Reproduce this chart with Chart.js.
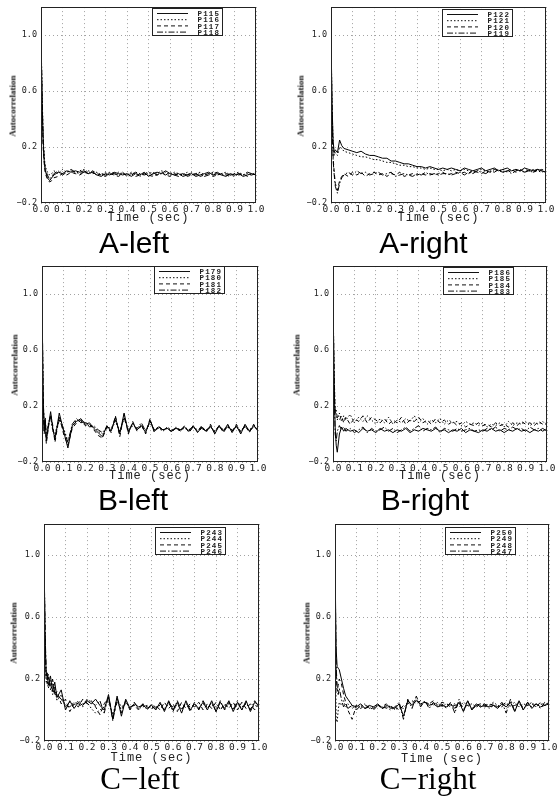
<!DOCTYPE html>
<html><head><meta charset="utf-8">
<script src="https://cdn.jsdelivr.net/npm/chart.js@4.4.0/dist/chart.umd.min.js"></script>
<style>
html,body{margin:0;padding:0;background:#fff}
body{width:559px;height:798px;position:relative;overflow:hidden}
canvas{position:absolute}
.ylab{position:absolute;font-family:"Liberation Serif",serif;font-weight:bold;font-size:9px;line-height:9px;transform:translate(-50%,-50%) rotate(-90deg);white-space:nowrap;color:#111}
.xlab{position:absolute;font-family:"Liberation Mono",monospace;font-size:12px;line-height:12px;letter-spacing:1px;transform:translateX(-50%);white-space:nowrap;color:#222}
.sub{position:absolute;font-family:"Liberation Sans",Arial,sans-serif;font-size:30px;line-height:30px;transform:translateX(-50%);white-space:nowrap;color:#000}
.sub.serif{font-family:"Liberation Serif","Times New Roman",serif;font-size:31px;line-height:31px}
.leg{position:absolute}
</style>
</head><body>
<script>
// ---- shared axes ----
const T = [0,0.005,0.01,0.015,0.02,0.03,0.04,0.05,
 0.06,0.08,0.10,0.12,0.14,0.16,0.18,0.20,
 0.22,0.24,0.26,0.28,0.30,0.32,0.34,0.36,
 0.38,0.40,0.42,0.44,0.46,0.48,0.50,0.52,
 0.54,0.56,0.58,0.60,0.62,0.64,0.66,0.68,
 0.70,0.72,0.74,0.76,0.78,0.80,0.82,0.84,
 0.86,0.88,0.90,0.92,0.94,0.96,0.98,1.00];
const Y_TICKS = [-0.2,0.2,0.6,1.0];
const Y_TICK_LABELS = ['\u22120.2','0.2','0.6','1.0'];
const X_TICKS = [0,0.1,0.2,0.3,0.4,0.5,0.6,0.7,0.8,0.9,1.0];
const X_TICK_LABELS = ['0.0','0.1','0.2','0.3','0.4','0.5','0.6','0.7','0.8','0.9','1.0'];

// ---- A-left ----
const A_LEFT_NAMES = ['P115','P116','P117','P118'];
const A_LEFT_S1 = [1.0,0.55,0.24,0.10,0.03,-0.02,-0.04,-0.02,
 0.00,0.02,0.01,0.03,0.02,0.03,0.02,0.03,
 0.01,0.02,0.00,-0.01,0.01,0.00,0.02,0.01,
 0.00,0.01,-0.01,0.01,0.00,0.02,-0.01,0.01,
 0.02,0.01,0.03,0.01,0.00,0.01,-0.01,0.00,
 0.01,-0.01,0.00,0.01,0.02,0.00,0.01,0.00,
 -0.01,0.01,0.00,0.01,-0.01,0.00,0.01,0.00];
const A_LEFT_S2 = [1.0,0.60,0.28,0.13,0.06,0.02,0.00,0.01,
 0.03,0.01,0.04,0.02,0.03,0.01,0.03,0.04,
 0.02,0.01,0.02,0.00,0.02,0.01,0.00,0.02,
 0.01,0.00,0.02,0.01,-0.01,0.01,0.02,0.00,
 0.01,0.03,0.02,0.00,0.02,0.01,0.00,0.02,
 0.00,0.01,0.02,0.00,0.01,0.02,0.00,0.01,
 0.02,0.00,0.01,0.02,0.00,0.01,0.00,0.02];
const A_LEFT_S3 = [1.0,0.50,0.20,0.08,0.01,-0.03,-0.05,-0.04,
 -0.02,-0.01,0.01,0.00,0.02,0.01,0.00,0.02,
 0.01,0.03,0.01,0.00,-0.01,0.01,0.00,-0.01,
 0.01,0.00,0.01,-0.01,0.00,0.01,0.00,-0.01,
 0.00,0.02,0.00,-0.01,0.01,0.00,0.01,-0.01,
 0.00,0.01,-0.01,0.00,0.01,-0.01,0.00,0.01,
 0.00,-0.01,0.01,0.00,0.01,-0.01,0.00,0.01];
const A_LEFT_S4 = [1.0,0.58,0.26,0.11,0.04,0.00,-0.03,-0.01,
 0.01,0.03,0.00,0.02,0.04,0.02,0.01,0.02,
 0.03,0.02,0.00,0.01,0.00,0.02,0.01,0.00,
 0.02,-0.01,0.00,0.02,0.01,0.00,0.01,0.02,
 0.00,0.01,0.00,0.02,0.00,-0.01,0.01,0.00,
 0.02,0.00,0.01,-0.01,0.00,0.01,0.02,0.00,
 0.01,0.00,-0.01,0.01,0.00,0.02,0.01,0.00];

// ---- A-right ----
const A_RIGHT_NAMES = ['P122','P121','P120','P119'];
const A_RIGHT_S1 = [1.0,0.50,0.24,0.16,0.18,0.16,0.25,0.21,
 0.19,0.18,0.17,0.16,0.17,0.15,0.14,0.14,
 0.13,0.12,0.12,0.10,0.10,0.09,0.08,0.08,
 0.07,0.06,0.06,0.05,0.06,0.05,0.04,0.05,
 0.04,0.05,0.04,0.03,0.05,0.04,0.03,0.04,
 0.05,0.03,0.04,0.05,0.03,0.04,0.05,0.03,
 0.04,0.03,0.05,0.04,0.03,0.04,0.03,0.02];
const A_RIGHT_S2 = [1.0,0.48,0.22,0.14,0.16,0.14,0.20,0.19,
 0.17,0.16,0.15,0.14,0.13,0.13,0.12,0.11,
 0.11,0.10,0.09,0.09,0.08,0.07,0.07,0.06,
 0.06,0.05,0.05,0.04,0.05,0.04,0.04,0.03,
 0.04,0.03,0.04,0.03,0.04,0.03,0.02,0.03,
 0.04,0.03,0.02,0.04,0.03,0.04,0.02,0.03,
 0.04,0.03,0.02,0.03,0.04,0.03,0.02,0.03];
const A_RIGHT_S3 = [1.0,0.40,0.12,0.02,-0.06,-0.11,-0.04,-0.01,
 0.01,-0.01,0.02,0.00,0.02,-0.01,0.01,0.02,
 0.00,0.01,-0.01,0.01,0.00,0.02,-0.01,0.00,
 0.01,0.00,0.01,0.00,0.01,0.00,0.01,0.02,
 0.00,0.01,0.02,0.01,0.02,0.01,0.03,0.02,
 0.01,0.03,0.02,0.04,0.03,0.02,0.03,0.04,
 0.02,0.03,0.04,0.03,0.02,0.03,0.04,0.03];
const A_RIGHT_S4 = [1.0,0.38,0.10,0.00,-0.08,-0.13,-0.06,-0.02,
 0.00,0.02,0.00,0.03,0.01,0.02,0.00,0.01,
 0.02,0.00,0.01,0.02,-0.01,0.00,0.01,0.00,
 -0.01,0.01,0.00,0.02,0.00,0.01,0.00,0.01,
 0.01,0.00,0.01,0.02,0.00,0.02,0.01,0.03,
 0.02,0.01,0.03,0.02,0.04,0.02,0.03,0.01,
 0.03,0.04,0.02,0.03,0.02,0.04,0.03,0.02];

// ---- B-left ----
const B_LEFT_NAMES = ['P179','P180','P181','P182'];
const B_LEFT_S1 = [1.0,0.30,0.02,0.10,-0.05,0.06,0.16,0.04,
 -0.04,0.15,0.02,-0.10,0.06,0.09,0.11,0.07,
 0.08,0.04,0.01,-0.02,0.06,0.02,0.12,0.00,
 0.15,0.01,0.08,0.03,0.06,0.01,0.10,0.02,
 0.05,0.03,0.04,0.02,0.04,0.03,0.05,0.02,
 0.06,0.01,0.05,0.02,0.06,0.00,0.06,0.02,
 0.07,0.01,0.06,0.00,0.07,0.02,0.06,0.03];
const B_LEFT_S2 = [1.0,0.28,0.05,0.12,-0.02,0.08,0.13,0.02,
 0.00,0.12,0.04,-0.05,0.05,0.10,0.09,0.08,
 0.06,0.05,0.02,0.00,0.04,0.03,0.09,0.02,
 0.11,0.03,0.07,0.04,0.05,0.03,0.07,0.03,
 0.04,0.02,0.05,0.03,0.04,0.02,0.05,0.03,
 0.05,0.02,0.04,0.03,0.05,0.02,0.05,0.03,
 0.05,0.02,0.06,0.02,0.05,0.03,0.06,0.02];
const B_LEFT_S3 = [1.0,0.32,0.00,0.08,-0.07,0.05,0.14,0.06,
 -0.06,0.13,0.00,-0.08,0.04,0.08,0.10,0.06,
 0.07,0.03,-0.01,-0.03,0.05,0.01,0.13,-0.02,
 0.14,0.00,0.09,0.02,0.07,0.00,0.11,0.01,
 0.06,0.02,0.05,0.01,0.05,0.02,0.06,0.01,
 0.05,0.02,0.06,0.01,0.07,0.01,0.06,0.01,
 0.06,0.02,0.07,0.01,0.06,0.01,0.07,0.02];
const B_LEFT_S4 = [1.0,0.26,0.04,0.11,-0.03,0.07,0.12,0.03,
 -0.02,0.10,0.03,-0.06,0.07,0.11,0.08,0.09,
 0.05,0.06,0.03,0.01,0.05,0.04,0.10,0.01,
 0.12,0.02,0.06,0.04,0.08,0.02,0.09,0.03,
 0.05,0.03,0.04,0.02,0.05,0.03,0.04,0.03,
 0.05,0.03,0.04,0.02,0.05,0.02,0.06,0.03,
 0.05,0.03,0.05,0.02,0.06,0.02,0.05,0.03];

// ---- B-right ----
const B_RIGHT_NAMES = ['P186','P185','P184','P183'];
const B_RIGHT_S1 = [1.0,0.40,0.05,-0.08,-0.13,0.00,0.05,0.02,
 0.04,0.02,0.03,0.01,0.04,0.02,0.03,0.01,
 0.04,0.02,0.03,0.01,0.03,0.02,0.04,0.01,
 0.03,0.02,0.04,0.03,0.02,0.04,0.02,0.03,
 0.01,0.03,0.02,0.04,0.01,0.03,0.02,0.01,
 0.03,0.02,0.04,0.02,0.03,0.01,0.03,0.02,
 0.04,0.02,0.03,0.01,0.03,0.02,0.04,0.02];
const B_RIGHT_S2 = [1.0,0.45,0.18,0.14,0.10,0.15,0.09,0.13,
 0.10,0.14,0.08,0.12,0.09,0.13,0.10,0.07,
 0.11,0.08,0.12,0.07,0.10,0.08,0.11,0.09,
 0.13,0.08,0.11,0.07,0.10,0.08,0.11,0.07,
 0.10,0.08,0.09,0.06,0.09,0.07,0.08,0.06,
 0.08,0.05,0.07,0.06,0.08,0.05,0.09,0.06,
 0.08,0.07,0.09,0.06,0.08,0.07,0.09,0.06];
const B_RIGHT_S3 = [1.0,0.42,0.15,0.17,0.12,0.10,0.13,0.08,
 0.12,0.07,0.11,0.09,0.13,0.08,0.12,0.10,
 0.08,0.11,0.07,0.10,0.08,0.12,0.07,0.10,
 0.09,0.12,0.08,0.10,0.07,0.11,0.08,0.10,
 0.07,0.09,0.06,0.08,0.05,0.07,0.06,0.08,
 0.06,0.07,0.05,0.08,0.06,0.07,0.05,0.08,
 0.06,0.09,0.07,0.08,0.06,0.09,0.07,0.08];
const B_RIGHT_S4 = [1.0,0.35,0.00,-0.05,0.02,0.06,0.03,0.05,
 0.02,0.04,0.01,0.03,0.05,0.01,0.04,0.02,
 0.03,0.05,0.02,0.04,0.01,0.03,0.05,0.02,
 0.04,0.06,0.02,0.04,0.03,0.05,0.01,0.04,
 0.03,0.02,0.04,0.02,0.03,0.04,0.02,0.03,
 0.02,0.04,0.03,0.05,0.02,0.04,0.03,0.05,
 0.03,0.04,0.02,0.05,0.03,0.04,0.02,0.04];

// ---- C-left ----
const C_LEFT_NAMES = ['P243','P244','P245','P246'];
const C_LEFT_S1 = [1.0,0.50,0.22,0.24,0.16,0.22,0.12,0.18,
 0.08,0.13,0.00,0.06,0.01,0.05,0.03,0.06,
 0.04,0.07,0.03,0.00,0.10,-0.06,0.09,-0.04,
 0.07,0.01,0.04,0.02,0.03,0.01,0.03,0.00,
 0.05,-0.01,0.06,0.00,0.05,-0.02,0.06,0.00,
 0.04,0.01,0.05,0.00,0.06,-0.01,0.05,0.01,
 0.06,-0.01,0.05,0.00,0.06,-0.01,0.05,0.03];
const C_LEFT_S2 = [1.0,0.45,0.18,0.20,0.14,0.19,0.10,0.15,
 0.06,0.10,0.02,0.05,0.03,0.06,0.04,0.05,
 0.01,-0.02,0.00,0.02,0.06,-0.03,0.07,0.02,
 0.04,0.02,0.03,0.01,0.02,0.03,0.01,0.02,
 0.03,0.01,0.04,0.02,0.03,0.01,0.04,0.02,
 0.03,0.01,0.04,0.02,0.03,0.02,0.01,0.03,
 0.04,0.01,0.03,0.02,0.04,0.01,0.03,0.02];
const C_LEFT_S3 = [1.0,0.48,0.20,0.17,0.21,0.13,0.17,0.09,
 0.12,0.04,0.07,-0.01,0.04,0.02,0.07,0.04,
 0.06,0.02,-0.03,0.04,0.08,-0.05,0.05,0.00,
 0.05,0.02,0.03,0.00,0.04,0.02,0.01,0.03,
 0.00,0.05,0.01,0.04,-0.01,0.05,0.01,0.04,
 0.02,0.05,0.00,0.04,0.01,0.05,0.00,0.04,
 0.01,0.05,0.00,0.05,0.01,0.04,0.00,0.04];
const C_LEFT_S4 = [1.0,0.52,0.25,0.19,0.23,0.15,0.20,0.11,
 0.10,0.07,0.03,0.02,0.05,0.04,0.02,0.07,
 0.05,0.03,0.06,-0.02,0.09,-0.07,0.08,-0.02,
 0.06,0.00,0.05,0.01,0.04,0.00,0.04,0.01,
 0.04,0.00,0.05,-0.01,0.06,0.00,0.05,-0.01,
 0.05,0.00,0.06,0.01,0.05,-0.01,0.06,0.00,
 0.05,0.00,0.06,0.00,0.05,0.00,0.06,0.02];

// ---- C-right ----
const C_RIGHT_NAMES = ['P250','P249','P248','P247'];
const C_RIGHT_S1 = [1.0,0.40,0.28,0.27,0.26,0.20,0.14,0.09,
 0.07,0.03,0.02,0.04,0.01,0.03,0.02,0.04,
 0.01,0.03,0.02,0.01,0.04,-0.04,0.06,0.03,
 0.06,0.04,0.05,0.03,0.04,0.02,0.03,0.02,
 0.04,0.01,0.05,-0.01,0.06,0.00,0.04,0.02,
 0.03,0.02,0.03,0.01,0.04,0.02,0.05,-0.01,
 0.06,0.00,0.05,0.01,0.04,0.02,0.03,0.04];
const C_RIGHT_S2 = [1.0,-0.05,-0.08,0.00,0.05,0.03,0.06,0.02,
 0.04,0.01,0.03,0.02,0.04,0.01,0.02,0.03,
 0.02,0.01,0.03,0.00,0.02,0.01,0.05,0.04,
 0.07,0.03,0.05,0.04,0.03,0.05,0.02,0.04,
 0.03,0.04,0.02,0.05,0.03,0.04,0.02,0.03,
 0.04,0.03,0.05,0.03,0.02,0.04,0.03,0.05,
 0.02,0.04,0.03,0.05,0.02,0.04,0.03,0.05];
const C_RIGHT_S3 = [1.0,0.25,0.12,0.16,0.20,0.17,0.10,0.05,
 0.00,-0.06,0.03,0.01,0.03,0.02,0.01,0.03,
 0.02,0.04,0.01,0.02,0.00,0.03,0.04,0.06,
 0.04,0.06,0.05,0.04,0.06,0.03,0.05,0.04,
 0.02,0.03,0.04,0.02,0.03,0.01,0.03,0.04,
 0.02,0.03,0.04,0.02,0.03,0.05,0.02,0.03,
 0.04,0.02,0.03,0.04,0.02,0.05,0.03,0.04];
const C_RIGHT_S4 = [1.0,0.30,0.15,0.10,0.14,0.07,0.02,0.04,
 0.01,0.03,0.00,0.03,0.01,0.02,0.00,0.03,
 0.01,0.02,0.00,0.02,0.05,-0.06,0.07,0.01,
 0.09,0.02,0.06,0.01,0.05,0.02,0.04,0.01,
 0.05,-0.02,0.07,-0.01,0.06,0.00,0.03,0.02,
 0.04,0.01,0.03,0.02,0.05,-0.02,0.07,-0.01,
 0.06,0.00,0.05,0.02,0.04,0.01,0.05,0.03];

// ---- panel layout (positions & styles only) ----
const DASHES = [[], [1.5,2], [4,3], [6,2,1.5,2]];
const PANELS = [
  {names:A_LEFT_NAMES,  series:[A_LEFT_S1,A_LEFT_S2,A_LEFT_S3,A_LEFT_S4],     title:'A-left',  box:[41,6,215,197],   leg:[152,8],   xl:219, yl:28, sub:[134,227.5], serif:false},
  {names:A_RIGHT_NAMES, series:[A_RIGHT_S1,A_RIGHT_S2,A_RIGHT_S3,A_RIGHT_S4], title:'A-right', box:[331,6,215,197],  leg:[442,9],   xl:219, yl:30, sub:[423.5,227.5], serif:false},
  {names:B_LEFT_NAMES,  series:[B_LEFT_S1,B_LEFT_S2,B_LEFT_S3,B_LEFT_S4],     title:'B-left',  box:[42,265,216,197], leg:[154,266], xl:477, yl:27, sub:[133,485], serif:false},
  {names:B_RIGHT_NAMES, series:[B_RIGHT_S1,B_RIGHT_S2,B_RIGHT_S3,B_RIGHT_S4], title:'B-right', box:[333,265,214,197],leg:[443,267], xl:477, yl:36, sub:[425,485], serif:false},
  {names:C_LEFT_NAMES,  series:[C_LEFT_S1,C_LEFT_S2,C_LEFT_S3,C_LEFT_S4],     title:'C\u2212left',  box:[44,523,215,218], leg:[155,527], xl:759, yl:30, sub:[140,763], serif:true},
  {names:C_RIGHT_NAMES, series:[C_RIGHT_S1,C_RIGHT_S2,C_RIGHT_S3,C_RIGHT_S4], title:'C\u2212right', box:[335,523,214,218],leg:[445,527], xl:760, yl:28, sub:[428,763], serif:true}
];

const framePlugin = {
  id:'frame',
  afterDraw(chart){
    const {ctx, chartArea:a} = chart;
    ctx.save();
    ctx.strokeStyle = '#222';
    ctx.lineWidth = 1;
    ctx.strokeRect(Math.round(a.left)+0.5, Math.round(a.top)+0.5, Math.round(a.width)-1, Math.round(a.height)-1);
    ctx.restore();
  }
};

const SVG_DASH = ['', '1.5,2', '4,3', '6,2,1.5,2'];

function addDiv(cls, text, style){
  const d = document.createElement('div');
  d.className = cls; d.textContent = text;
  Object.assign(d.style, style);
  document.body.appendChild(d);
}

function makePanel(p){
  const [L,Tp,W,H] = p.box;
  const padL=40, padT=8, padR=14, padB=18;
  const cv = document.createElement('canvas');
  const cw = W+padL+padR, ch = H+padT+padB;
  cv.width = cw; cv.height = ch;
  cv.style.width = cw+'px'; cv.style.height = ch+'px';
  cv.style.left = (L-padL)+'px'; cv.style.top = (Tp-padT)+'px';
  document.body.appendChild(cv);

  const xFont = {family:'"DejaVu Sans Mono", monospace', size:9.5};
  const yFont = {family:'"DejaVu Sans Mono", monospace', size:8.5};
  new Chart(cv, {
    type:'line',
    data:{
      datasets: p.series.map((s,i)=>({
        label:p.names[i],
        data:T.map((t,k)=>({x:t,y:s[k]})),
        borderColor:'#000', borderWidth:1, borderDash:DASHES[i],
        pointRadius:0, tension:0, fill:false
      }))
    },
    options:{
      responsive:false, animation:false, devicePixelRatio:1,
      layout:{padding:{top:padT,right:padR,left:0,bottom:0}},
      plugins:{legend:{display:false}, tooltip:{enabled:false}},
      scales:{
        x:{
          type:'linear', min:0, max:1,
          afterBuildTicks:s=>{ s.ticks = X_TICKS.map(v=>({value:v})); },
          afterFit:s=>{ s.height = padB; },
          ticks:{callback:(v,i)=>X_TICK_LABELS[i], maxRotation:0, minRotation:0, autoSkip:false, padding:1, font:xFont, color:'#222'},
          grid:{color:'#8a8a8a', lineWidth:0.8, drawTicks:false},
          border:{display:false, dash:[1,3]}
        },
        y:{
          type:'linear', min:-0.2, max:1.2,
          afterBuildTicks:s=>{ s.ticks = Y_TICKS.map(v=>({value:v})); },
          afterFit:s=>{ s.width = padL; },
          ticks:{callback:(v,i)=>Y_TICK_LABELS[i], padding:4, font:yFont, color:'#222'},
          grid:{color:'#8a8a8a', lineWidth:0.8, drawTicks:false},
          border:{display:false, dash:[1,3]}
        }
      }
    },
    plugins:[framePlugin]
  });

  // legend box
  const [lx,ly] = p.leg;
  let svg = `<svg class="leg" style="left:${lx}px;top:${ly}px" width="71" height="28" xmlns="http://www.w3.org/2000/svg">`+
    `<rect x="0.5" y="0.5" width="70" height="27" fill="#fff" stroke="#222" stroke-width="1"/>`;
  p.names.forEach((n,i)=>{
    const y = 5.5 + i*6.2;
    svg += `<line x1="5" y1="${y}" x2="36" y2="${y}" stroke="#111" stroke-width="1" ${SVG_DASH[i]?`stroke-dasharray="${SVG_DASH[i]}"`:''}/>`;
    svg += `<text x="68" y="${y+2.6}" text-anchor="end" font-family="Liberation Mono, monospace" font-size="7.5" font-weight="bold" letter-spacing="1.1" fill="#222">${n}</text>`;
  });
  svg += '</svg>';
  document.body.insertAdjacentHTML('beforeend', svg);

  // axis titles
  addDiv('xlab', 'Time (sec)', {left:(L+W/2)+'px', top:(p.xl-7)+'px'});
  addDiv('ylab', 'Autocorrelation', {left:(L-p.yl)+'px', top:(Tp+H/2+1)+'px'});
  // panel subtitle
  addDiv(p.serif?'sub serif':'sub', p.title, {left:p.sub[0]+'px', top:p.sub[1]+'px'});
}

PANELS.forEach(makePanel);
</script>
</body></html>
